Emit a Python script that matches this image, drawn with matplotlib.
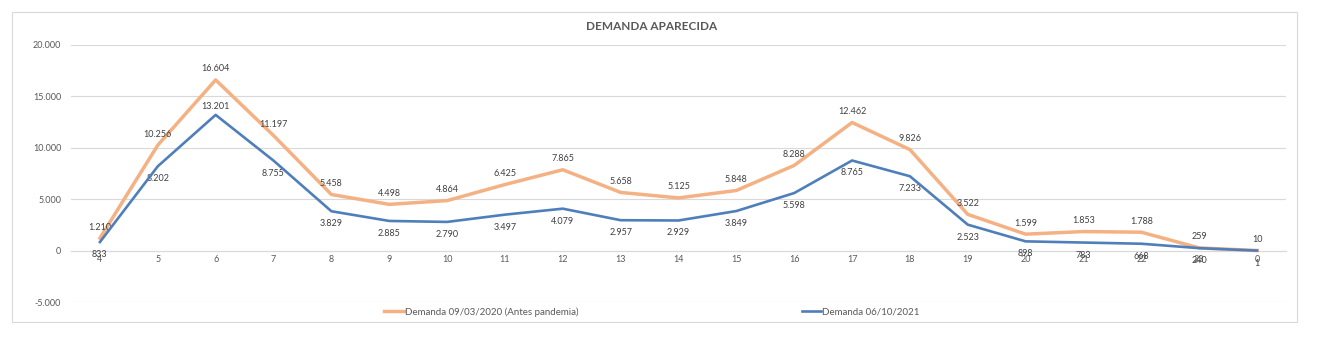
import matplotlib
matplotlib.use("Agg")
import matplotlib.pyplot as plt
from matplotlib.patches import Rectangle

# hours of the day shown on the category axis
hours = ["4", "5", "6", "7", "8", "9", "10", "11", "12", "13", "14",
         "15", "16", "17", "18", "19", "20", "21", "22", "23", "0"]

demanda_2020 = [1210, 10256, 16604, 11197, 5458, 4498, 4864, 6425, 7865, 5658,
                5125, 5848, 8288, 12462, 9826, 3522, 1599, 1853, 1788, 259, 10]
demanda_2021 = [833, 8202, 13201, 8755, 3829, 2885, 2790, 3497, 4079, 2957,
                2929, 3849, 5598, 8765, 7233, 2523, 898, 783, 668, 240, 1]

label_2020 = "Demanda 09/03/2020 (Antes pandemia)"
label_2021 = "Demanda 06/10/2021"
title = "DEMANDA APARECIDA"

orange = "#F4B183"
blue = "#4F7FBA"
grid_gray = "#D9D9D9"
text_gray = "#595959"

plt.rcParams["font.family"] = ["Lato", "DejaVu Sans"]


def fmt(v):
    """Format with a dot as thousands separator"""
    return f"{v:,}".replace(",", ".")


W, H = 1323, 340
fig = plt.figure(figsize=(W / 100, H / 100), dpi=100)

# outer chart border
fig.patches.append(Rectangle((12 / W, 1 - 322 / H), (1297 - 12) / W, (322 - 12) / H,
                             transform=fig.transFigure, fill=False,
                             edgecolor=grid_gray, linewidth=0.8))

ax = fig.add_axes([71 / W, 1 - 302 / H, (1286 - 71) / W, (302 - 45) / H])
x = list(range(len(hours)))

ax.plot(x, demanda_2020, color=orange, linewidth=2.5, label=label_2020, zorder=3)
ax.plot(x, demanda_2021, color=blue, linewidth=1.9, label=label_2021, zorder=4)

ax.set_xlim(-0.5, len(hours) - 0.5)
ax.set_ylim(-5000, 20000)
ax.set_yticks(range(-5000, 20001, 5000))
ax.set_yticklabels([fmt(v) for v in range(-5000, 20001, 5000)])
ax.set_xticks(x)
ax.set_xticklabels(hours)

ax.grid(axis="y", color=grid_gray, linewidth=0.8)
ax.set_axisbelow(True)
for s in ["top", "right", "left"]:
    ax.spines[s].set_visible(False)
ax.spines["bottom"].set_position(("data", 0))
ax.spines["bottom"].set_color(grid_gray)
ax.tick_params(axis="both", length=0, labelsize=6.5, labelcolor=text_gray)
ax.tick_params(axis="y", pad=7)
ax.tick_params(axis="x", pad=3)

# data labels: orange above, blue below (except at the 6h peak)
for i, v in enumerate(demanda_2020):
    ax.annotate(fmt(v), (i, v), xytext=(0, 8), textcoords="offset points",
                ha="center", va="center", fontsize=6.5, color="#404040")
for i, v in enumerate(demanda_2021):
    dy = 6 if i == 2 else -9
    ax.annotate(fmt(v), (i, v), xytext=(0, dy), textcoords="offset points",
                ha="center", va="center", fontsize=6.5, color="#404040")

fig.text(652 / W, 1 - 27 / H, title, ha="center", va="center",
         fontsize=8.5, fontweight="bold", color=text_gray)

fig.legend(loc="center", bbox_to_anchor=(652 / W, 1 - 312 / H), ncol=2,
           frameon=False, fontsize=7, handlelength=2.0, handletextpad=0.1,
           columnspacing=23, labelcolor=text_gray)

fig.savefig("out.png", dpi=100)
